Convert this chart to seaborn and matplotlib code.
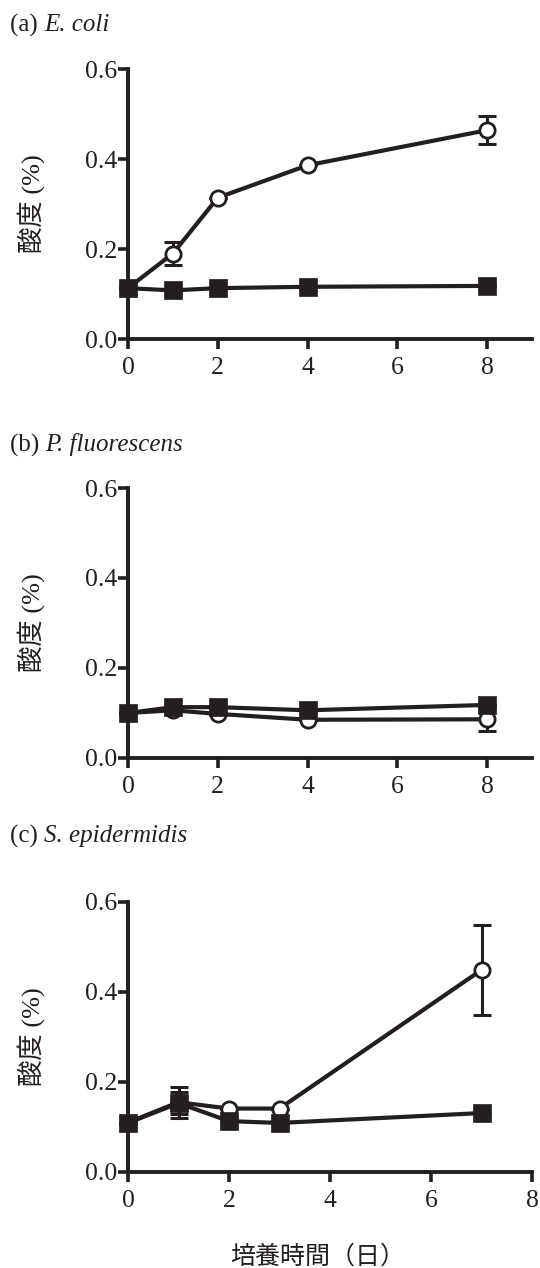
import numpy as np
import pandas as pd
import seaborn as sns
import matplotlib
matplotlib.use("Agg")
import matplotlib.pyplot as plt

# data
days_ab = [0, 1, 2, 4, 8]
days_c = [0, 1, 2, 3, 7]

ecoli_open = [0.113, 0.190, 0.314, 0.386, 0.464]
ecoli_open_err = [0.0, 0.025, 0.0, 0.0, 0.031]
ecoli_filled = [0.113, 0.108, 0.113, 0.116, 0.118]
ecoli_filled_err = [0.0, 0.0, 0.0, 0.0, 0.0]

pfl_open = [0.100, 0.106, 0.098, 0.085, 0.086]
pfl_open_err = [0.0, 0.0, 0.0, 0.0, 0.027]
pfl_filled = [0.100, 0.113, 0.113, 0.106, 0.118]
pfl_filled_err = [0.0, 0.0, 0.0, 0.0, 0.0]

sepi_open = [0.110, 0.155, 0.141, 0.141, 0.449]
sepi_open_err = [0.0, 0.035, 0.0, 0.0, 0.100]
sepi_filled = [0.109, 0.153, 0.113, 0.109, 0.131]
sepi_filled_err = [0.0, 0.024, 0.0, 0.0, 0.0]

tags = ["(a) ", "(b) ", "(c) "]
species = ["E. coli", "P. fluorescens", "S. epidermidis"]
ylabel = "酸度 (%)"
xlabel = "培養時間（日）"
xticks = [0, 2, 4, 6, 8]
yticks = [0.0, 0.2, 0.4, 0.6]

sns.set_theme(style="ticks")
plt.rcParams["font.family"] = ["Liberation Serif", "Noto Sans CJK JP"]

ink = "#231f20"
W, H = 540, 1268

fig = plt.figure(figsize=(5.4, 12.68), dpi=100)
renderer = fig.canvas.get_renderer()

panels = [
    (days_ab, ecoli_open, ecoli_open_err, ecoli_filled, ecoli_filled_err, 339, 9),
    (days_ab, pfl_open, pfl_open_err, pfl_filled, pfl_filled_err, 758, 9),
    (days_c, sepi_open, sepi_open_err, sepi_filled, sepi_filled_err, 1172, 8),
]
title_y = [25, 445, 836]

for i, (x, yo, eo, yf, ef, base_px, xmax) in enumerate(panels):
    ax = fig.add_axes([128 / W, (H - base_px) / H, 404 / W, 270 / H])

    df_open = pd.DataFrame({"day": x, "acid": yo})
    df_filled = pd.DataFrame({"day": x, "acid": yf})

    # open circles first, filled squares on top
    ax.errorbar(x, yo, yerr=eo, fmt="none", ecolor=ink, elinewidth=2.2,
                capsize=6.5, capthick=2.2, clip_on=False, zorder=3)
    sns.lineplot(data=df_open, x="day", y="acid", ax=ax, color=ink, lw=3,
                 marker="o", markersize=11, markerfacecolor="white",
                 markeredgecolor=ink, markeredgewidth=2, clip_on=False,
                 zorder=4)
    ax.errorbar(x, yf, yerr=ef, fmt="none", ecolor=ink, elinewidth=2.2,
                capsize=6.5, capthick=2.2, clip_on=False, zorder=5)
    sns.lineplot(data=df_filled, x="day", y="acid", ax=ax, color=ink, lw=3,
                 marker="s", markersize=13, markerfacecolor=ink,
                 markeredgecolor=ink, markeredgewidth=0.5, clip_on=False,
                 zorder=6)

    ax.set_xlim(0, xmax)
    ax.set_ylim(0, 0.6)
    ax.set_xticks(xticks)
    ax.set_yticks(yticks)
    ax.set_yticklabels([f"{t:.1f}" for t in yticks])
    ax.set_xlabel("")
    ax.set_ylabel("")
    sns.despine(ax=ax)
    for s in ["left", "bottom"]:
        ax.spines[s].set_linewidth(2.8)
        ax.spines[s].set_color(ink)
    ax.tick_params(axis="both", direction="out", length=7, width=2.6,
                   color=ink, labelsize=18.5, labelcolor=ink)
    ax.tick_params(axis="y", pad=0.5)
    ax.tick_params(axis="x", pad=6)

    fig.text(31 / W, 1 - (base_px - 135) / H, ylabel, rotation=90,
             ha="center", va="center", fontsize=19, color=ink)

    # panel title: upright tag + italic species name
    t = fig.text(10 / W, 1 - title_y[i] / H, tags[i], ha="left",
                 va="center", fontsize=18, color=ink)
    bb = t.get_window_extent(renderer)
    fig.text(bb.x1 / W, 1 - title_y[i] / H, species[i], ha="left",
             va="center", fontsize=18, color=ink, style="italic")

fig.text(318 / W, 1 - 1257 / H, xlabel, ha="center", va="center",
         fontsize=18, color=ink, family=["Noto Sans CJK JP"])

fig.savefig("out.png", dpi=100)
plt.close(fig)
